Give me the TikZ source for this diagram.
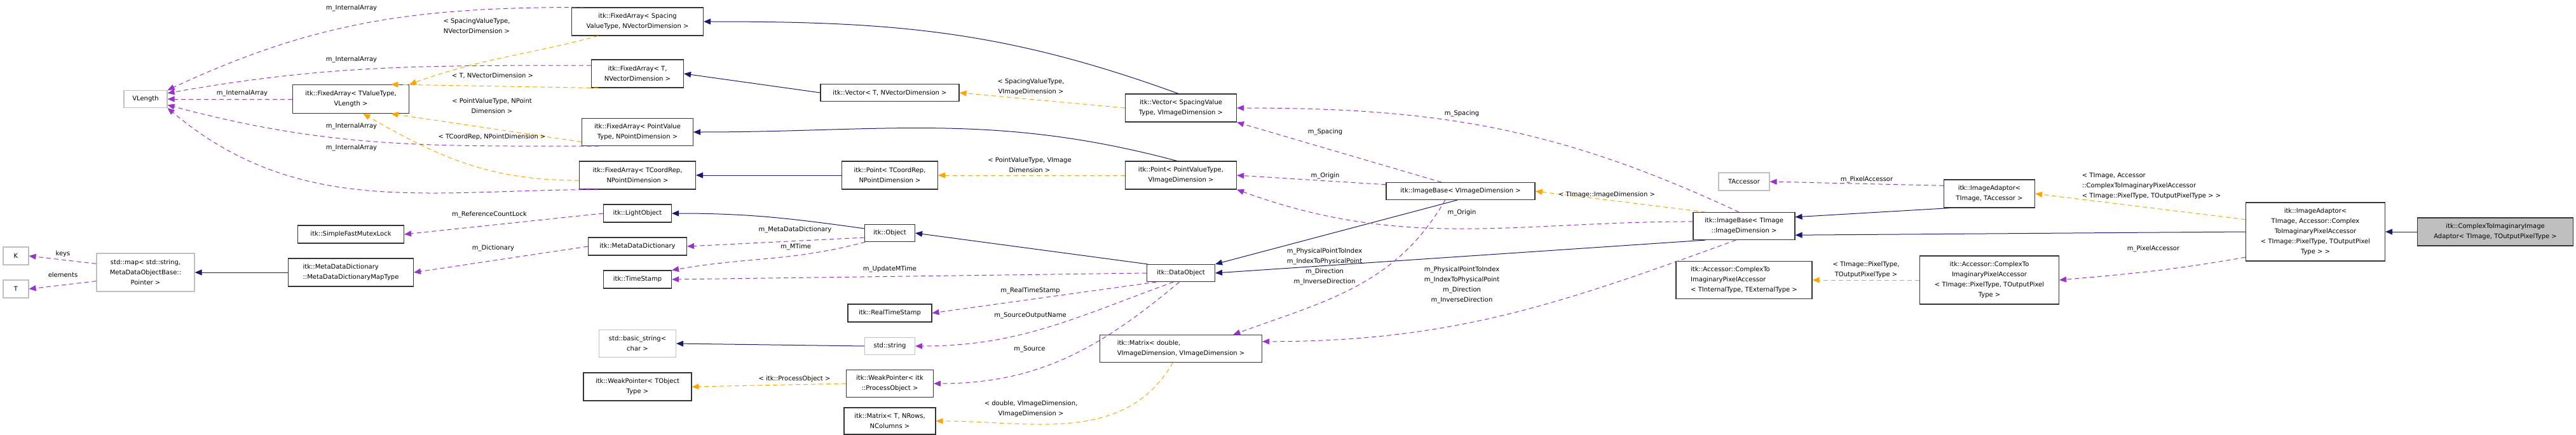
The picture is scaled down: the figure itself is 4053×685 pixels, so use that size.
\documentclass[tikz,border=0pt]{standalone}
\usepackage{fontspec}
\setmainfont{DejaVu Sans}
\usepackage{tikz}
\usetikzlibrary{arrows.meta}
\definecolor{navy}{RGB}{25,25,112}
\definecolor{orchid}{RGB}{154,50,205}
\definecolor{tmpl}{RGB}{255,165,0}
\definecolor{extgray}{RGB}{191,191,191}

\begin{document}
\begin{tikzpicture}[x=1pt,y=-1pt,
    every node/.style={font=\fontsize{10}{16}\selectfont},
    box/.style={draw=black!80,line width=1.1pt,fill=white,inner sep=2pt,align=center},
    ext/.style={box,draw=extgray},
    inherit/.style={navy,line width=1pt,-{Triangle[width=9pt,length=11pt]}},
    templ/.style={tmpl,line width=1pt,dash pattern=on 7pt off 5pt,-{Triangle[width=9pt,length=11pt]}},
    uses/.style={orchid,line width=1pt,dash pattern=on 7pt off 5pt,-{Triangle[width=9pt,length=11pt]}},
    lbl/.style={align=center,inner sep=0pt}]
  \useasboundingbox (0,0) rectangle (4053,685);
  % left column
  \node[ext,minimum width=68,minimum height=27]   (vlen)   at (229,156) {VLength};
  \node[ext,minimum width=40,minimum height=28]   (keyK)   at (25,403)  {K};
  \node[ext,minimum width=40,minimum height=28]   (elemT)  at (25,455)  {T};
  \node[ext,minimum width=154,minimum height=60]  (smap)   at (229,429) {std::map\textless{} std::string,\\MetaDataObjectBase::\\Pointer \textgreater};
  \node[box,minimum width=183,minimum height=45]  (favl)   at (552,156) {itk::FixedArray\textless{} TValueType,\\VLength \textgreater};
  \node[box,minimum width=167,minimum height=28]  (mutex)  at (552,369) {itk::SimpleFastMutexLock};
  \node[box,minimum width=197,minimum height=44,align=left] (mapt) at (552,429) {itk::MetaDataDictionary\\::MetaDataDictionaryMapType};
  % fixed arrays and friends
  \node[box,minimum width=207,minimum height=44]  (fasp)   at (1003,34)  {itk::FixedArray\textless{} Spacing\\ValueType, NVectorDimension \textgreater};
  \node[box,minimum width=145,minimum height=44]  (fat)    at (1003,116) {itk::FixedArray\textless{} T,\\NVectorDimension \textgreater};
  \node[box,minimum width=175,minimum height=43]  (fapv)   at (1003,208) {itk::FixedArray\textless{} PointValue\\Type, NPointDimension \textgreater};
  \node[box,minimum width=183,minimum height=44]  (fatcr)  at (1003,276) {itk::FixedArray\textless{} TCoordRep,\\NPointDimension \textgreater};
  \node[box,minimum width=107,minimum height=28]  (light)  at (1003,336) {itk::LightObject};
  \node[box,minimum width=155,minimum height=28]  (mdd)    at (1003,388) {itk::MetaDataDictionary};
  \node[box,minimum width=107,minimum height=28]  (tstamp) at (1003,440) {itk::TimeStamp};
  \node[ext,minimum width=121,minimum height=43]  (bstr)   at (1003,541) {std::basic\_string\textless\\char \textgreater};
  \node[box,minimum width=170,minimum height=44]  (wpt)    at (1003,609) {itk::WeakPointer\textless{} TObject\\Type \textgreater};
  % vectors, points, object
  \node[box,minimum width=218,minimum height=27]  (vect)   at (1400,146) {itk::Vector\textless{} T, NVectorDimension \textgreater};
  \node[box,minimum width=151,minimum height=44]  (pttcr)  at (1400,276) {itk::Point\textless{} TCoordRep,\\NPointDimension \textgreater};
  \node[box,minimum width=79,minimum height=27]   (obj)    at (1400,367) {itk::Object};
  \node[box,minimum width=132,minimum height=28]  (rts)    at (1400,493) {itk::RealTimeStamp};
  \node[ext,minimum width=79,minimum height=27]   (str)    at (1400,545) {std::string};
  \node[box,minimum width=137,minimum height=43]  (wpp)    at (1400,604) {itk::WeakPointer\textless{} itk\\::ProcessObject \textgreater};
  \node[box,minimum width=144,minimum height=42]  (matt)   at (1400,663) {itk::Matrix\textless{} T, NRows,\\NColumns \textgreater};
  \node[box,minimum width=175,minimum height=44]  (vecsv)  at (1858,170) {itk::Vector\textless{} SpacingValue\\Type, VImageDimension \textgreater};
  \node[box,minimum width=175,minimum height=44]  (ptpv)   at (1858,276) {itk::Point\textless{} PointValueType,\\VImageDimension \textgreater};
  \node[box,minimum width=107,minimum height=27]  (dobj)   at (1858,430) {itk::DataObject};
  \node[box,minimum width=255,minimum height=43,align=left] (matd) at (1858,549) {itk::Matrix\textless{} double,\\ VImageDimension, VImageDimension \textgreater};
  % image bases and adaptors
  \node[box,minimum width=234,minimum height=27]  (ibv)    at (2298,301) {itk::ImageBase\textless{} VImageDimension \textgreater};
  \node[ext,minimum width=80,minimum height=28]   (tacc)   at (2744,286) {TAccessor};
  \node[box,minimum width=160,minimum height=43]  (ibt)    at (2744,356) {itk::ImageBase\textless{} TImage\\::ImageDimension \textgreater};
  \node[box,minimum width=214,minimum height=59,align=left] (acci) at (2744,441) {itk::Accessor::ComplexTo\\ImaginaryPixelAccessor\\\textless{} TInternalType, TExternalType \textgreater};
  \node[box,minimum width=143,minimum height=44]  (iat)    at (3130,305) {itk::ImageAdaptor\textless\\TImage, TAccessor \textgreater};
  \node[box,minimum width=219,minimum height=76]  (accp)   at (3130,441) {itk::Accessor::ComplexTo\\ImaginaryPixelAccessor\\\textless{} TImage::PixelType, TOutputPixel\\Type \textgreater};
  \node[box,minimum width=219,minimum height=92]  (iac)    at (3643,365) {itk::ImageAdaptor\textless\\TImage, Accessor::Complex\\ToImaginaryPixelAccessor\\\textless{} TImage::PixelType, TOutputPixel\\Type \textgreater{} \textgreater};
  \node[box,fill=black!25,minimum width=245,minimum height=44] (c2i) at (3926,365) {itk::ComplexToImaginaryImage\\Adaptor\textless{} TImage, TOutputPixelType \textgreater};

  % inheritance
  \draw[inherit] (vecsv.100) to[out=160,in=0] (fasp.east);
  \draw[inherit] (vect.west) -- (fat.east);
  \draw[inherit] (ptpv.105) to[out=165,in=0] (fapv.east);
  \draw[inherit] (pttcr.west) -- (fatcr.east);
  \draw[inherit] (obj.170) to[out=172,in=0] (light.east);
  \draw[inherit] (dobj.165) -- (obj.east);
  \draw[inherit] (ibv.250) -- (dobj.north east);
  \draw[inherit] (ibt.200) -- (dobj.east);
  \draw[inherit] (iat.200) -- (ibt.10);
  \draw[inherit] (iac.west) -- (ibt.-10);
  \draw[inherit] (c2i.west) -- (iac.east);
  \draw[inherit] (mapt.west) -- (smap.east);
  \draw[inherit] (str.west) -- (bstr.east);

  % template instances
  \draw[templ] (fasp.200) to[out=195,in=20] (favl.north east);
  \draw[templ] (fat.200) -- (favl.20);
  \draw[templ] (fapv.190) -- (favl.-20);
  \draw[templ] (fatcr.185) to[out=180,in=-30] (favl.-50);
  \draw[templ] (vecsv.west) -- (vect.east);
  \draw[templ] (ptpv.west) -- (pttcr.east);
  \draw[templ] (wpp.west) -- (wpt.east);
  \draw[templ] (matd.240) to[out=240,in=0] (matt.east);
  \draw[templ] (ibt.160) -- (ibv.east);
  \draw[templ] (accp.west) -- (acci.east);
  \draw[templ] (iac.170) -- (iat.east);

  % usage
  \draw[uses] (fasp.165) to[out=180,in=25] (vlen.north east);
  \draw[uses] (fat.170) to[out=180,in=10] (vlen.15);
  \draw[uses] (favl.west) -- (vlen.east);
  \draw[uses] (fapv.200) to[out=180,in=-15] (vlen.-15);
  \draw[uses] (fatcr.200) to[out=180,in=-40] (vlen.south east);
  \draw[uses] (light.west) -- (mutex.east);
  \draw[uses] (mdd.west) -- (mapt.east);
  \draw[uses] (smap.170) -- (keyK.east);
  \draw[uses] (smap.190) -- (elemT.east);
  \draw[uses] (obj.190) -- (mdd.east);
  \draw[uses] (obj.200) to[out=195,in=10] (tstamp.15);
  \draw[uses] (dobj.west) -- (tstamp.east);
  \draw[uses] (dobj.200) -- (rts.east);
  \draw[uses] (dobj.230) to[out=200,in=0] (str.east);
  \draw[uses] (dobj.260) to[out=220,in=0] (wpp.east);
  \draw[uses] (ibv.155) -- (vecsv.south east);
  \draw[uses] (ibv.175) -- (ptpv.east);
  \draw[uses] (ibv.210) to[out=240,in=20] (matd.15);
  \draw[uses] (ibt.110) to[out=155,in=0] (vecsv.east);
  \draw[uses] (ibt.175) to[out=180,in=-20] (ptpv.south east);
  \draw[uses] (ibt.240) to[out=200,in=0] (matd.5);
  \draw[uses] (iat.170) -- (tacc.east);
  \draw[uses] (iac.200) to[out=190,in=5] (accp.east);

  % labels
  \node[lbl] (l1)  at (553,13)  {m\_InternalArray};
  \node[lbl] (l2)  at (553,94)  {m\_InternalArray};
  \node[lbl] (l3)  at (381,147) {m\_InternalArray};
  \node[lbl] (l4)  at (553,199) {m\_InternalArray};
  \node[lbl] (l5)  at (553,233) {m\_InternalArray};
  \node[lbl] (l6)  at (750,41)  {\textless{} SpacingValueType,\\NVectorDimension \textgreater};
  \node[lbl] (l7)  at (775,119) {\textless{} T, NVectorDimension \textgreater};
  \node[lbl] (l8)  at (774,167) {\textless{} PointValueType, NPoint\\Dimension \textgreater};
  \node[lbl] (l9)  at (774,216) {\textless{} TCoordRep, NPointDimension \textgreater};
  \node[lbl] (l10) at (770,338) {m\_ReferenceCountLock};
  \node[lbl] (l11) at (776,391) {m\_Dictionary};
  \node[lbl] (l12) at (99,400)  {keys};
  \node[lbl] (l13) at (99,433)  {elements};
  \node[lbl] (l14) at (1251,362) {m\_MetaDataDictionary};
  \node[lbl] (l15) at (1252,389) {m\_MTime};
  \node[lbl] (l16) at (1400,424) {m\_UpdateMTime};
  \node[lbl] (l17) at (1250,597) {\textless{} itk::ProcessObject \textgreater};
  \node[lbl] (l18) at (1622,137) {\textless{} SpacingValueType,\\VImageDimension \textgreater};
  \node[lbl] (l19) at (1620,260) {\textless{} PointValueType, VImage\\Dimension \textgreater};
  \node[lbl] (l20) at (1621,458) {m\_RealTimeStamp};
  \node[lbl] (l21) at (1621,497) {m\_SourceOutputName};
  \node[lbl] (l22) at (1620,550) {m\_Source};
  \node[lbl] (l23) at (1622,644) {\textless{} double, VImageDimension,\\VImageDimension \textgreater};
  \node[lbl] (l24) at (2085,208) {m\_Spacing};
  \node[lbl] (l25) at (2085,277) {m\_Origin};
  \node[lbl] (l26) at (2084,420) {m\_PhysicalPointToIndex\\m\_IndexToPhysicalPoint\\m\_Direction\\m\_InverseDirection};
  \node[lbl] (l27) at (2300,179) {m\_Spacing};
  \node[lbl] (l28) at (2300,335) {m\_Origin};
  \node[lbl] (l29) at (2300,449) {m\_PhysicalPointToIndex\\m\_IndexToPhysicalPoint\\m\_Direction\\m\_InverseDirection};
  \node[lbl] (l30) at (2528,307) {\textless{} TImage::ImageDimension \textgreater};
  \node[lbl] (l31) at (2937,283) {m\_PixelAccessor};
  \node[lbl] (l32) at (2936,425) {\textless{} TImage::PixelType,\\TOutputPixelType \textgreater};
  \node[lbl,align=left] (l33) at (3385,293) {\textless{} TImage, Accessor\\::ComplexToImaginaryPixelAccessor\\\textless{} TImage::PixelType, TOutputPixelType \textgreater{} \textgreater};
  \node[lbl] (l34) at (3388,392) {m\_PixelAccessor};
\end{tikzpicture}
\end{document}
